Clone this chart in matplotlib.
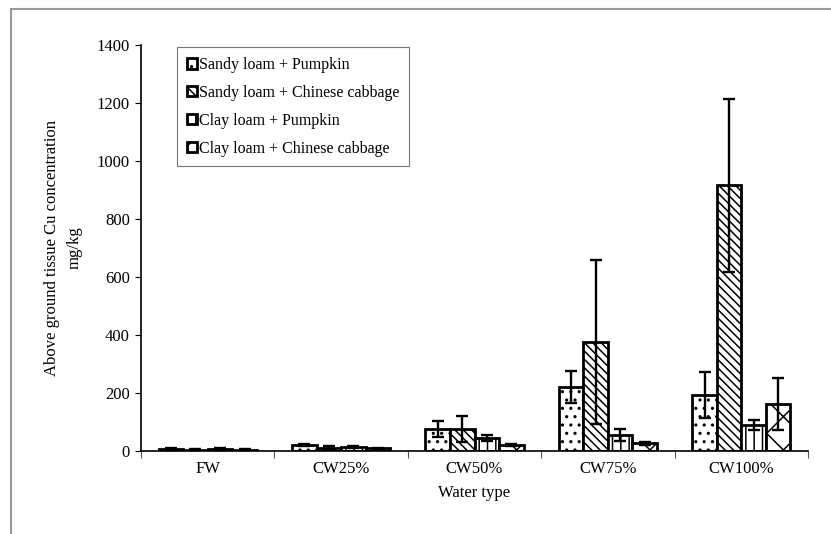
import matplotlib.pyplot as plt
import numpy as np
from matplotlib.patches import Rectangle, Patch

plt.rcParams['font.family'] = ['Liberation Serif', 'DejaVu Serif']
plt.rcParams['hatch.linewidth'] = 1.1

water_types = ["FW", "CW25%", "CW50%", "CW75%", "CW100%"]
series_names = ["Sandy loam + Pumpkin", "Sandy loam + Chinese cabbage",
                "Clay loam + Pumpkin", "Clay loam + Chinese cabbage"]

sandy_pumpkin = [8, 20, 75, 222, 193]
sandy_pumpkin_err = [4, 4, 27, 55, 80]
sandy_cabbage = [5, 12, 76, 376, 917]
sandy_cabbage_err = [3, 5, 45, 283, 298]
clay_pumpkin = [6, 14, 45, 55, 90]
clay_pumpkin_err = [3, 5, 10, 20, 18]
clay_cabbage = [4, 9, 20, 27, 162]
clay_cabbage_err = [2, 3, 4, 5, 90]

values = [sandy_pumpkin, sandy_cabbage, clay_pumpkin, clay_cabbage]
errors = [sandy_pumpkin_err, sandy_cabbage_err, clay_pumpkin_err, clay_cabbage_err]
hatches = ['..', '\\\\\\\\', '||', 'x']

fig = plt.figure(figsize=(8.31, 5.34), dpi=100)
ax = fig.add_axes([0.1697, 0.1554, 0.8027, 0.760])

# gray chart-area frame
fig.add_artist(Rectangle((11 / 831, -0.05), 1.1, 1 - 9 / 534 + 0.05,
                         transform=fig.transFigure, fill=False,
                         edgecolor='#999999', linewidth=1.5))

x = np.arange(len(water_types))
w = 0.184
offsets = (np.arange(4) - 1.5) * w
for vals, errs, hatch, off, name in zip(values, errors, hatches, offsets, series_names):
    ax.bar(x + off, vals, width=w, color='white', edgecolor='black',
           linewidth=2.0, hatch=hatch, label=name, zorder=2)
    ax.errorbar(x + off, vals, yerr=errs, fmt='none', ecolor='black',
                elinewidth=1.7, capsize=4.5, capthick=1.7, zorder=3)

ax.set_xlim(-0.5, 4.5)
ax.set_ylim(0, 1400)
ax.set_yticks(np.arange(0, 1401, 200))
ax.set_xticks(np.arange(-0.5, 4.6, 1))
ax.set_xticklabels([])
ax.set_xticks(x, minor=True)
ax.set_xticklabels(water_types, minor=True)
ax.tick_params(axis='x', which='minor', length=0, pad=7, labelsize=12)
ax.tick_params(axis='x', which='major', length=5, width=0.8, color='#555555')
ax.tick_params(axis='y', length=4, width=0.8, labelsize=12, pad=4)
for s in ['top', 'right']:
    ax.spines[s].set_visible(False)
ax.spines['left'].set_linewidth(1.2)
ax.spines['bottom'].set_linewidth(1.2)

ax.set_xlabel("Water type", fontsize=12, labelpad=6)
ax.set_ylabel("Above ground tissue Cu concentration\nmg/kg", fontsize=12,
              labelpad=10, linespacing=1.6)

handles = [Patch(facecolor='white', edgecolor='black', linewidth=2.0, hatch=h)
           for h in hatches]
leg = ax.legend(handles, series_names, loc='upper left',
                bbox_to_anchor=(0.054, 0.995), borderaxespad=0,
                fontsize=11.5, frameon=True, fancybox=False,
                edgecolor='#555555', handlelength=0.65, handleheight=0.65,
                handletextpad=0.15, labelspacing=0.75, borderpad=0.6)
leg.get_frame().set_linewidth(0.8)

fig.savefig("out.png", dpi=100)
